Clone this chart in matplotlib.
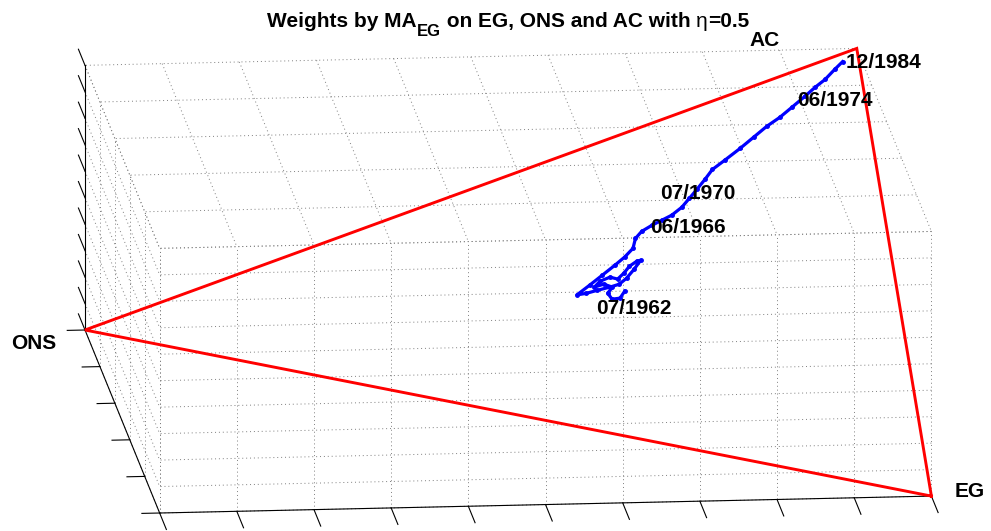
import numpy as np
import matplotlib
matplotlib.use("Agg")
import matplotlib.pyplot as plt
from mpl_toolkits.mplot3d import proj3d

plt.rcParams["font.family"] = ["Liberation Sans", "DejaVu Sans"]

# portfolio weights along the path, 07/1962 -> 12/1984
w_eg = [0.333, 0.344, 0.340, 0.324, 0.315, 0.302, 0.301, 0.293, 0.292, 0.302,
        0.294, 0.284, 0.279, 0.280, 0.294, 0.307, 0.314, 0.313, 0.310, 0.308,
        0.304, 0.293, 0.282, 0.271, 0.261, 0.249, 0.230, 0.220, 0.215, 0.212,
        0.209, 0.200, 0.187, 0.174, 0.159, 0.144, 0.134, 0.121, 0.107, 0.095,
        0.086, 0.074, 0.061, 0.050, 0.041, 0.027, 0.017]
w_ons = [0.333, 0.340, 0.350, 0.354, 0.347, 0.357, 0.369, 0.361, 0.348, 0.339,
         0.330, 0.322, 0.312, 0.307, 0.317, 0.328, 0.338, 0.350, 0.366, 0.380,
         0.392, 0.374, 0.357, 0.340, 0.326, 0.314, 0.309, 0.300, 0.286, 0.273,
         0.260, 0.246, 0.235, 0.224, 0.212, 0.201, 0.184, 0.163, 0.143, 0.126,
         0.108, 0.091, 0.073, 0.059, 0.045, 0.031, 0.020]
w_ac = [0.334, 0.316, 0.310, 0.322, 0.338, 0.341, 0.330, 0.346, 0.360, 0.359,
        0.376, 0.394, 0.409, 0.413, 0.389, 0.365, 0.348, 0.337, 0.324, 0.312,
        0.304, 0.333, 0.361, 0.389, 0.413, 0.437, 0.461, 0.480, 0.499, 0.515,
        0.531, 0.554, 0.578, 0.602, 0.629, 0.655, 0.682, 0.716, 0.750, 0.779,
        0.806, 0.835, 0.866, 0.891, 0.914, 0.942, 0.963]

# dated annotations along the path
date_text = ["07/1962", "06/1966", "07/1970", "06/1974", "12/1984"]
date_eg = [0.347, 0.218, 0.154, 0.063, 0.021]
date_ons = [0.371, 0.289, 0.270, 0.084, 0.016]
date_ac = [0.282, 0.493, 0.576, 0.853, 0.963]

# simplex corners and their labels
corner_text = ["EG", "ONS", "AC"]
corner_eg = [1.0, 0.0, 0.0]
corner_ons = [0.0, 1.0, 0.0]
corner_ac = [0.0, 0.0, 1.0]
label_eg = [1.007, -0.030, -0.099]
label_ons = [-0.029, 1.093, 0.129]
label_ac = [0.022, -0.064, 0.970]

W, H = 991, 531
fig = plt.figure(figsize=(W / 100, H / 100), dpi=100)
ax = fig.add_subplot(projection="3d", proj_type="ortho", computed_zorder=False)
ax.set_position([0.05, 0.0, H / W, 1.0])
ax.view_init(elev=-13.4, azim=185.4)
ax.set_box_aspect((793, 775, 272))
ax.set_xlim(0, 1); ax.set_ylim(0, 1); ax.set_zlim(0, 1)
ax.set_axis_off()

# matlab-like box: dotted grid on the three back planes
grid_kw = dict(color="#7f7f7f", lw=0.7, ls=(0, (1, 3)), zorder=1)
xt = np.linspace(0, 1, 6)
yt = np.linspace(0, 1, 11)
zt = np.linspace(0, 1, 11)
for y in yt:
    ax.plot([1, 1], [y, y], [0, 1], **grid_kw)
    ax.plot([0, 1], [y, y], [1, 1], **grid_kw)
for z in zt:
    ax.plot([1, 1], [0, 1], [z, z], **grid_kw)
    ax.plot([0, 1], [1, 1], [z, z], **grid_kw)
for x in xt:
    ax.plot([x, x], [1, 1], [0, 1], **grid_kw)
    ax.plot([x, x], [0, 1], [1, 1], **grid_kw)

# axis lines + ticks
ax_kw = dict(color="black", lw=0.8, zorder=2)
ax.plot([0, 0], [1, 1], [0, 1], **ax_kw)
ax.plot([0, 1], [1, 1], [0, 0], **ax_kw)
ax.plot([1, 1], [0, 1], [0, 0], **ax_kw)
for z in zt:
    ax.plot([0, -0.088], [1, 1], [z, z], **ax_kw)
for x in xt:
    ax.plot([x, x], [1, 1.023], [0, 0], **ax_kw)
for y in yt:
    ax.plot([1, 1.09], [y, y], [0, 0], **ax_kw)

# simplex
ax.plot(corner_eg + corner_eg[:1], corner_ons + corner_ons[:1], corner_ac + corner_ac[:1],
        color="red", lw=2.1, zorder=3, solid_joinstyle="miter")

# weight path
ax.plot(w_eg, w_ons, w_ac, color="blue", lw=2.3, marker=".", ms=5, zorder=4)


# fit the projected box onto the figure: ONS corner and EG corner anchors
def to_px(xs, ys, zs):
    px, py, _ = proj3d.proj_transform(np.asarray(xs, float), np.asarray(ys, float),
                                      np.asarray(zs, float), ax.get_proj())
    return ax.transData.transform(np.column_stack([px, py]))


anchor = np.array([[85, H - 330], [932, H - 493]], float)
for _ in range(3):
    fig.canvas.draw()
    p = to_px([0, 1], [1, 0], [0, 0])
    s = np.linalg.norm(anchor[1] - anchor[0]) / np.linalg.norm(p[1] - p[0])
    pos = ax.get_position()
    x0, y0, w, h = pos.x0 * W, pos.y0 * H, pos.width * W, pos.height * H
    nx0 = anchor[0, 0] - (p[0, 0] - x0) * s
    ny0 = anchor[0, 1] - (p[0, 1] - y0) * s
    ax.set_position([nx0 / W, ny0 / H, w * s / W, h * s / H])
fig.canvas.draw()

# labels placed at the projected 3d positions
for txt, a, b, c in [*zip(date_text, date_eg, date_ons, date_ac),
                     *zip(corner_text, label_eg, label_ons, label_ac)]:
    q = to_px([a], [b], [c])[0]
    fig.text(q[0] / W, q[1] / H, txt, ha="left", va="center",
             fontsize=15, fontweight="bold")

# title built from pieces (big lowered subscript, plain eta like matlab's tex)
renderer = fig.canvas.get_renderer()
pieces = [("Weights by MA", 15, "bold", 0), ("EG", 12, "bold", -9),
          (" on EG, ONS and AC with ", 15, "bold", 0), ("η", 15, "normal", 0),
          ("=0.5", 15, "bold", 0)]
base = H - 27
cursor = 0.0
parts = []
for txt, fs, fw, dy in pieces:
    t = fig.text(cursor / W, (base + dy) / H, txt, ha="left", va="baseline",
                 fontsize=fs, fontweight=fw)
    cursor += t.get_window_extent(renderer).width
    parts.append(t)
shift = 508 - cursor / 2
for t in parts:
    x, y = t.get_position()
    t.set_position((x + shift / W, y))

fig.savefig("out.png", dpi=100)
